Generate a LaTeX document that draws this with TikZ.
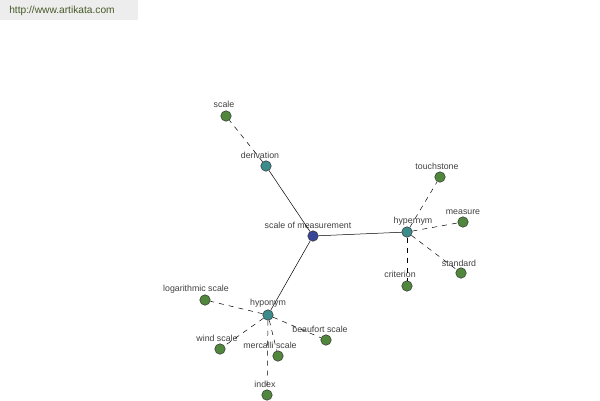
\documentclass[tikz,border=0pt]{standalone}
\usepackage{fontspec}
\setmainfont{Liberation Sans}
\begin{document}
\begin{tikzpicture}[x=1pt,y=-1pt]
\definecolor{leafc}{RGB}{80,135,60}
\definecolor{midc}{RGB}{60,140,140}
\definecolor{rootc}{RGB}{55,70,150}
\definecolor{urlc}{RGB}{70,90,40}
\tikzset{
  dot/.style={circle,draw=black!80,line width=0.5pt,inner sep=0pt,minimum size=10.5pt},
  leaf/.style={dot,fill=leafc},
  mid/.style={dot,fill=midc},
  root/.style={dot,fill=rootc},
  lbl/.style={font=\fontsize{8.8}{9}\selectfont,text=black!75,inner sep=0pt},
  solidedge/.style={draw=black,line width=0.5pt},
  dashedge/.style={draw=black,line width=0.5pt,dash pattern=on 5pt off 5pt}}
\useasboundingbox (0,0) rectangle (600,400);
\fill[white] (0,0) rectangle (600,400);
\fill[black!7] (0,0) rectangle (138,20);
\node[font=\fontsize{10.2}{11}\selectfont,text=urlc,inner sep=0pt] (url) at (62,11) {http://www.artikata.com};
\node[root] (som) at (313,236) {};
\node[mid] (der) at (266,166) {};
\node[leaf] (sca) at (226,116) {};
\node[mid] (hyper) at (407,232) {};
\node[leaf] (tou) at (440,177) {};
\node[leaf] (mea) at (463,222) {};
\node[leaf] (sta) at (461,273) {};
\node[leaf] (cri) at (407,286) {};
\node[mid] (hypo) at (268,315) {};
\node[leaf] (log) at (205,300) {};
\node[leaf] (win) at (220,349) {};
\node[leaf] (mer) at (278,356) {};
\node[leaf] (bea) at (326,340) {};
\node[leaf] (ind) at (267,395) {};
\node[lbl] (lsom) at (308,225) {scale of measurement};
\node[lbl] (lder) at (260,155) {derivation};
\node[lbl] (lsca) at (224,104) {scale};
\node[lbl] (lhyper) at (413,221) {hypernym};
\node[lbl] (ltou) at (437,166) {touchstone};
\node[lbl] (lmea) at (463,212) {measure};
\node[lbl] (lsta) at (459,263) {standard};
\node[lbl] (lcri) at (400,274) {criterion};
\node[lbl] (lhypo) at (268,303) {hyponym};
\node[lbl] (llog) at (196,289) {logarithmic scale};
\node[lbl] (lwin) at (217,338) {wind scale};
\node[lbl] (lmer) at (270,345) {mercalli scale};
\node[lbl] (lbea) at (320,329) {beaufort scale};
\node[lbl] (lind) at (265,384) {index};
\path[solidedge] (som) -- (der);
\path[solidedge] (som) -- (hyper);
\path[solidedge] (som) -- (hypo);
\path[dashedge] (der) -- (sca);
\path[dashedge] (hyper) -- (tou);
\path[dashedge] (hyper) -- (mea);
\path[dashedge] (hyper) -- (sta);
\path[dashedge] (hyper) -- (cri);
\path[dashedge] (hypo) -- (log);
\path[dashedge] (hypo) -- (win);
\path[dashedge] (hypo) -- (mer);
\path[dashedge] (hypo) -- (bea);
\path[dashedge] (hypo) -- (ind);
\end{tikzpicture}
\end{document}
